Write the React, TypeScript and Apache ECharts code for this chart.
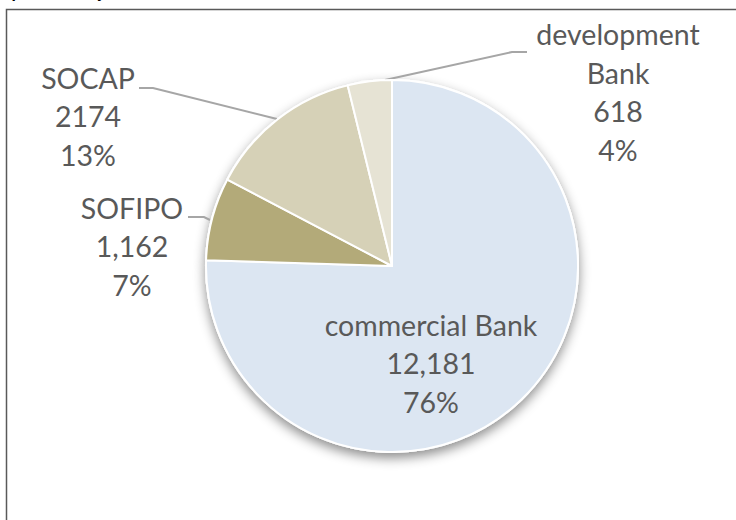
import React, { useEffect, useRef } from "react";
import * as echarts from "echarts";

const categories = ["commercial Bank", "SOFIPO", "SOCAP", "development\nBank"];
const values = [12181, 1162, 2174, 618];
const valueLabels = ["12,181", "1,162", "2174", "618"];
const colors = ["#DCE6F2", "#B3AA79", "#D6D1B7", "#E6E3D4"];
const captionText = "of branches by sector and states, 2019";

// label anchor positions (px) and leader lines, per slice
const labelPos = [
  { x: 431, y: 363, line: null as number[][] | null },
  { x: 132, y: 246, line: [[210, 220], [204, 217], [188, 217]] },
  { x: 88, y: 116, line: [[277, 119], [153, 88], [139, 88]] },
  { x: 618, y: 92, line: [[385, 80], [512, 52], [527, 52]] },
];

export default function App() {
  const ref = useRef<HTMLDivElement>(null);
  useEffect(() => {
    document.body.style.margin = "0";
    const chart = echarts.init(ref.current!, undefined, { renderer: "svg" });
    const data = categories.map((name, i) => ({
      name,
      value: values[i],
      itemStyle: { color: colors[i] },
      label: i === 0 ? { position: "inside" } : { position: "outside" },
      labelLine: { show: i !== 0 },
    }));
    chart.setOption({
      animation: false,
      backgroundColor: "#ffffff",
      graphic: [
        {
          type: "rect",
          shape: { x: 6.5, y: 9.5, width: 800, height: 600 },
          style: { fill: "none", stroke: "#595959", lineWidth: 1.5 },
          silent: true,
        },
        {
          type: "text",
          x: 4,
          y: 0,
          style: {
            text: captionText,
            font: 'italic bold 17px "Liberation Serif"',
            fill: "#000",
            verticalAlign: "bottom",
          },
          silent: true,
        },
      ],
      series: [
        {
          type: "pie",
          silent: true,
          center: [392, 266],
          radius: 187,
          startAngle: 90,
          clockwise: true,
          z: 1,
          label: { show: false },
          labelLine: { show: false },
          itemStyle: {
            color: "#ffffff",
            shadowBlur: 12,
            shadowOffsetY: 5,
            shadowColor: "rgba(0,0,0,0.45)",
          },
          data: values.map((v, i) => ({ name: "s" + i, value: v })),
        },
        {
          type: "pie",
          center: [392, 266],
          radius: 186,
          startAngle: 90,
          clockwise: true,
          z: 2,
          percentPrecision: 0,
          itemStyle: { borderColor: "#ffffff", borderWidth: 2 },
          label: {
            show: true,
            fontFamily: "Lato",
            fontSize: 28.5,
            lineHeight: 38.5,
            color: "#595959",
            align: "center",
            formatter: (p: any) => `${p.name}\n${valueLabels[p.dataIndex]}\n${p.percent}%`,
          },
          labelLine: {
            show: true,
            lineStyle: { color: "#A6A6A6", width: 2 },
          },
          labelLayout: (params: any) => {
            const lp = labelPos[params.dataIndex];
            const res: any = {
              x: lp.x,
              y: lp.y,
              align: "center",
              verticalAlign: "middle",
            };
            if (lp.line) res.labelLinePoints = lp.line;
            return res;
          },
          data,
        },
      ],
    });
    return () => chart.dispose();
  }, []);
  return <div ref={ref} style={{ width: 736, height: 520 }} />;
}
